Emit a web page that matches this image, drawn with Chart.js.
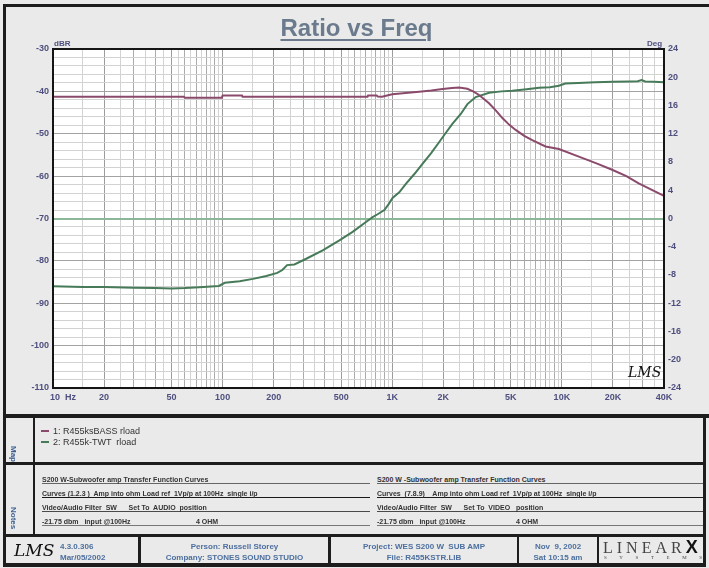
<!DOCTYPE html>
<html>
<head>
<meta charset="utf-8">
<title>Ratio vs Freq</title>
<script src="https://cdn.jsdelivr.net/npm/chart.js@4.4.1/dist/chart.umd.min.js"></script>
<style>
  html, body { margin: 0; padding: 0; }
  body { width: 709px; height: 568px; background: #e9eae9; position: relative; overflow: hidden;
         font-family: "Liberation Sans", Arial, sans-serif; }
  #plot { position: absolute; left: 0; top: 0; }
  .abs { position: absolute; white-space: pre; }
  .band { position: absolute; background: #1d1d1d; }
  #title { left: 2px; top: 16px; width: 709px; text-align: center; font-size: 24px; line-height: 24px;
           font-weight: bold; color: #6b7b8d; text-decoration: underline; text-decoration-thickness: 2px;
           text-underline-offset: 3px; }
  .axname { font-size: 8px; font-weight: bold; color: #4f4f7f; line-height: 8px; }
  .sig { font-family: "DejaVu Serif", "Liberation Serif", serif; font-style: italic; color: #111; }
  .leg { font-size: 9px; line-height: 10px; color: #333; }
  .legline { position: absolute; width: 8px; height: 2px; }
  .note { font-size: 7px; line-height: 7px; height: 7px; font-weight: bold; color: #333;
          border-bottom: 1px solid #666; }
  .side { position: absolute; overflow: hidden; }
  .side span { position: absolute; writing-mode: vertical-rl; font-size: 8px; font-weight: bold; color: #3d5f8f; }
  .foot { font-size: 8px; line-height: 11px; font-weight: bold; color: #4d6f9f; text-align: center; }
</style>
</head>
<body>
<canvas id="plot" width="709" height="412"></canvas>

<div id="title" class="abs">Ratio vs Freq</div>
<div class="abs axname" style="left:54px; top:40px;">dBR</div>
<div class="abs axname" style="left:647px; top:40px;">Deg</div>
<div class="abs sig" style="left:628px; top:364px; font-size:14px;">LMS</div>

<!-- frame bands -->
<div class="band" style="left:3px; top:4px; width:706px; height:3px;"></div>
<div class="band" style="left:3px; top:4px; width:3px; height:563px;"></div>
<div class="band" style="left:3px; top:414px; width:706px; height:4px;"></div>
<div class="band" style="left:3px; top:462px; width:703px; height:3px;"></div>
<div class="band" style="left:3px; top:534px; width:703px; height:3px;"></div>
<div class="band" style="left:3px; top:563px; width:703px; height:4px;"></div>
<div class="band" style="left:703px; top:414px; width:3px; height:153px;"></div>
<div class="band" style="left:33px; top:418px; width:2px; height:116px;"></div>
<div class="band" style="left:138px; top:537px; width:3px; height:26px;"></div>
<div class="band" style="left:328px; top:537px; width:3px; height:26px;"></div>
<div class="band" style="left:517px; top:537px; width:2px; height:26px;"></div>
<div class="band" style="left:597px; top:537px; width:2px; height:26px;"></div>

<!-- legend box -->
<div class="side" style="left:6px; top:418px; width:27px; height:44px;"><span style="left:3px; top:28px;">Map</span></div>
<div class="legline" style="left:41px; top:430px; background:#8b4a6b;"></div>
<div class="abs leg" style="left:53px; top:426px;">1: R455ksBASS rload</div>
<div class="legline" style="left:41px; top:441px; background:#467a58;"></div>
<div class="abs leg" style="left:53px; top:437px;">2: R455k-TWT  rload</div>

<!-- notes -->
<div class="side" style="left:6px; top:465px; width:27px; height:69px;"><span style="left:3px; top:42px;">Notes</span></div>
<div class="abs note" style="left:42px; top:476px; width:328px;">S200 W-Subwoofer amp Transfer Function Curves</div>
<div class="abs note" style="left:42px; top:490px; width:328px; border-color:#1a1a1a;">Curves (1.2.3 )  Amp into ohm Load ref  1Vp/p at 100Hz  single i/p</div>
<div class="abs note" style="left:42px; top:504px; width:328px; border-color:#4a4a4a;">Video/Audio Filter  SW      Set To  AUDIO  position</div>
<div class="abs note" style="left:42px; top:518px; width:328px; border-color:#777;">-21.75 dbm   input @100Hz</div>
<div class="abs note" style="left:196px; top:518px; border:none;">4 OHM</div>
<div class="abs note" style="left:377px; top:476px; width:326px;">S200 W -Subwoofer amp Transfer Function Curves</div>
<div class="abs note" style="left:377px; top:490px; width:326px; border-color:#1a1a1a;">Curves  (7.8.9)    Amp into ohm Load ref  1Vp/p at 100Hz  single i/p</div>
<div class="abs note" style="left:377px; top:504px; width:326px; border-color:#4a4a4a;">Video/Audio Filter  SW      Set To  VIDEO   position</div>
<div class="abs note" style="left:377px; top:518px; width:326px; border-color:#777;">-21.75 dbm   input @100Hz</div>
<div class="abs note" style="left:516px; top:518px; border:none;">4 OHM</div>

<!-- footer -->
<div class="abs sig" style="left:14px; top:537px; font-size:17px; line-height:26px;">LMS</div>
<div class="abs foot" style="left:60px; top:541px; text-align:left;">4.3.0.306<br>Mar/05/2002</div>
<div class="abs foot" style="left:141px; top:541px; width:187px;">Person: Russell Storey<br>Company: STONES SOUND STUDIO</div>
<div class="abs foot" style="left:331px; top:541px; width:186px;">Project: WES S200 W  SUB AMP<br>File: R455KSTR.LIB</div>
<div class="abs foot" style="left:519px; top:541px; width:78px;">Nov  9, 2002<br>Sat 10:15 am</div>
<div class="abs" style="left:603px; top:539px; font-family:'Liberation Serif',serif; font-size:16px; line-height:17px; letter-spacing:4px; color:#444;">LINEAR<span style="font-family:'Liberation Sans',Arial,sans-serif; font-weight:bold; color:#111; letter-spacing:0; font-size:18px;">X</span></div>
<div class="abs" style="left:604px; top:555px; width:98px; display:flex; justify-content:space-between; font-family:'Liberation Serif',serif; font-size:5px; line-height:6px; color:#444;"><span>S</span><span>Y</span><span>S</span><span>T</span><span>E</span><span>M</span><span>S</span></div>

<script>
// curve 1 : R455ksBASS rload  (dBR, left axis)
const freqBass = [10, 20, 40, 59, 60, 99, 100, 130, 131, 300, 500, 715, 720, 810, 820, 870,
  1000, 1200, 1440, 1700, 1980, 2250, 2480, 2770, 3000, 3250, 3500, 3720, 4100, 4460, 4900,
  5340, 6000, 6690, 8010, 9600, 12590, 16000, 19770, 24000, 28380, 33000, 38900, 40000];
const dbBass = [-41.25, -41.25, -41.25, -41.25, -41.5, -41.5, -40.95, -40.95, -41.25, -41.25, -41.25, -41.25, -41.0, -41.0, -41.2, -41.25,
  -40.7, -40.4, -40.1, -39.8, -39.45, -39.2, -39.1, -39.4, -40.0, -40.85, -41.9, -42.8, -44.6, -46.3, -47.9,
  -49.1, -50.5, -51.5, -53.0, -53.6, -55.4, -57.0, -58.5, -60.0, -61.7, -63.0, -64.4, -64.7];

// curve 2 : R455k-TWT rload  (Deg, right axis)
const freqTwt = [10, 15, 20, 30, 40, 50, 60, 73, 90, 95, 103, 126, 151, 181, 210, 225, 240, 265,
  311, 389, 488, 584, 700, 766, 820, 898, 950, 1004, 1100, 1203, 1350, 1507, 1700, 1888, 2050,
  2262, 2535, 2774, 3105, 3724, 4400, 5102, 6200, 7328, 8500, 9600, 10470, 12500, 15770, 20000,
  25000, 28000, 29500, 31000, 35000, 40000];
const degTwt = [-9.6, -9.7, -9.7, -9.8, -9.85, -9.9, -9.85, -9.75, -9.6, -9.55, -9.1, -8.9, -8.55, -8.15, -7.7, -7.3, -6.6, -6.5,
  -5.7, -4.5, -3.1, -1.9, -0.5, 0.2, 0.6, 1.2, 2.0, 2.9, 3.7, 4.9, 6.3, 7.75, 9.3, 10.8, 12.0,
  13.4, 14.8, 16.2, 17.2, 17.8, 18.0, 18.1, 18.3, 18.5, 18.6, 18.8, 19.1, 19.2, 19.3, 19.35,
  19.4, 19.45, 19.6, 19.4, 19.35, 19.3];

// tick labels
const freqTicks = [10, 20, 50, 100, 200, 500, 1000, 2000, 5000, 10000, 20000, 40000];
const freqTickText = ['        10  Hz', '20', '50', '100', '200', '500', '1K', '2K', '5K', '10K', '20K', '40K'];
const dbTicks = [-30, -40, -50, -60, -70, -80, -90, -100, -110];
const degTicks = [24, 20, 16, 12, 8, 4, 0, -4, -8, -12, -16, -20, -24];

const tickColor = '#4f4f7f';
const tickFont = { family: "'Liberation Sans', Arial, sans-serif", size: 9, weight: 'bold' };

// vertical grid positions, 1 .. 9.5 in each decade, up to 40K
var gridFreqs = [];
[10, 100, 1000, 10000].forEach(function (dec) {
  for (var m = 1; m < 10; m += 0.5) {
    if (m * dec <= 40000) gridFreqs.push(m * dec);
  }
});

function pts(xs, ys) {
  return xs.map(function (x, i) { return { x: x, y: ys[i] }; });
}

const plotFrame = {
  id: 'plotFrame',
  beforeDraw(chart) {
    const a = chart.chartArea, ctx = chart.ctx;
    ctx.save();
    ctx.fillStyle = '#ffffff';
    ctx.fillRect(a.left, a.top, a.right - a.left, a.bottom - a.top);
    ctx.restore();
  },
  afterDraw(chart) {
    const a = chart.chartArea, ctx = chart.ctx;
    ctx.save();
    ctx.strokeStyle = '#151515';
    ctx.lineWidth = 2;
    ctx.strokeRect(a.left, a.top, a.right - a.left, a.bottom - a.top);
    ctx.restore();
  }
};

new Chart(document.getElementById('plot'), {
  type: 'line',
  data: {
    datasets: [
      { label: '1: R455ksBASS rload', data: pts(freqBass, dbBass), yAxisID: 'y',
        borderColor: '#8b4a6b', borderWidth: 2, pointRadius: 0, tension: 0 },
      { label: '2: R455k-TWT  rload', data: pts(freqTwt, degTwt), yAxisID: 'y2',
        borderColor: '#467a58', borderWidth: 2, pointRadius: 0, tension: 0 }
    ]
  },
  options: {
    responsive: false,
    animation: false,
    devicePixelRatio: 1,
    layout: { padding: { top: 49, left: 0, right: 0, bottom: 0 } },
    plugins: { legend: { display: false }, tooltip: { enabled: false } },
    scales: {
      x: {
        type: 'logarithmic', min: 10, max: 40000, position: 'bottom',
        afterBuildTicks: function (scale) {
          scale.ticks = gridFreqs.map(function (v) { return { value: v }; });
        },
        afterFit: function (scale) { scale.height = 24; },
        border: { display: false },
        grid: {
          drawTicks: false,
          color: function (c) {
            var v = c.tick.value;
            if (freqTicks.indexOf(v) >= 0) return '#9c9c9c';
            var m = v / Math.pow(10, Math.floor(Math.log10(v) + 1e-9));
            return Math.abs(m - Math.round(m)) < 1e-6 ? '#ababab' : '#d3d3d3';
          }
        },
        ticks: {
          autoSkip: false, maxRotation: 0, padding: 4, color: tickColor, font: tickFont,
          callback: function (v) {
            var i = freqTicks.indexOf(v);
            return i >= 0 ? freqTickText[i] : '';
          }
        }
      },
      y: {
        position: 'left', min: -110, max: -30,
        afterFit: function (scale) { scale.width = 53; },
        border: { display: false },
        grid: {
          drawTicks: false,
          color: function (c) { return dbTicks.indexOf(c.tick.value) >= 0 ? '#a3a3a3' : '#d2d2d2'; }
        },
        ticks: {
          stepSize: 2, autoSkip: false, padding: 4, color: tickColor, font: tickFont,
          callback: function (v) { return dbTicks.indexOf(v) >= 0 ? String(v) : ''; }
        }
      },
      y2: {
        position: 'right', min: -24, max: 24,
        afterFit: function (scale) { scale.width = 45; },
        border: { display: false },
        grid: {
          z: 0,
          drawTicks: false,
          // only the 0 deg reference line
          color: function (c) { return c.tick.value === 0 ? '#8cb89a' : 'rgba(0,0,0,0)'; },
          lineWidth: function (c) { return c.tick.value === 0 ? 2 : 1; }
        },
        ticks: {
          stepSize: 4, autoSkip: false, padding: 4, color: tickColor, font: tickFont,
          callback: function (v) { return degTicks.indexOf(v) >= 0 ? String(v) : ''; }
        }
      }
    }
  },
  plugins: [plotFrame]
});
</script>
</body>
</html>
